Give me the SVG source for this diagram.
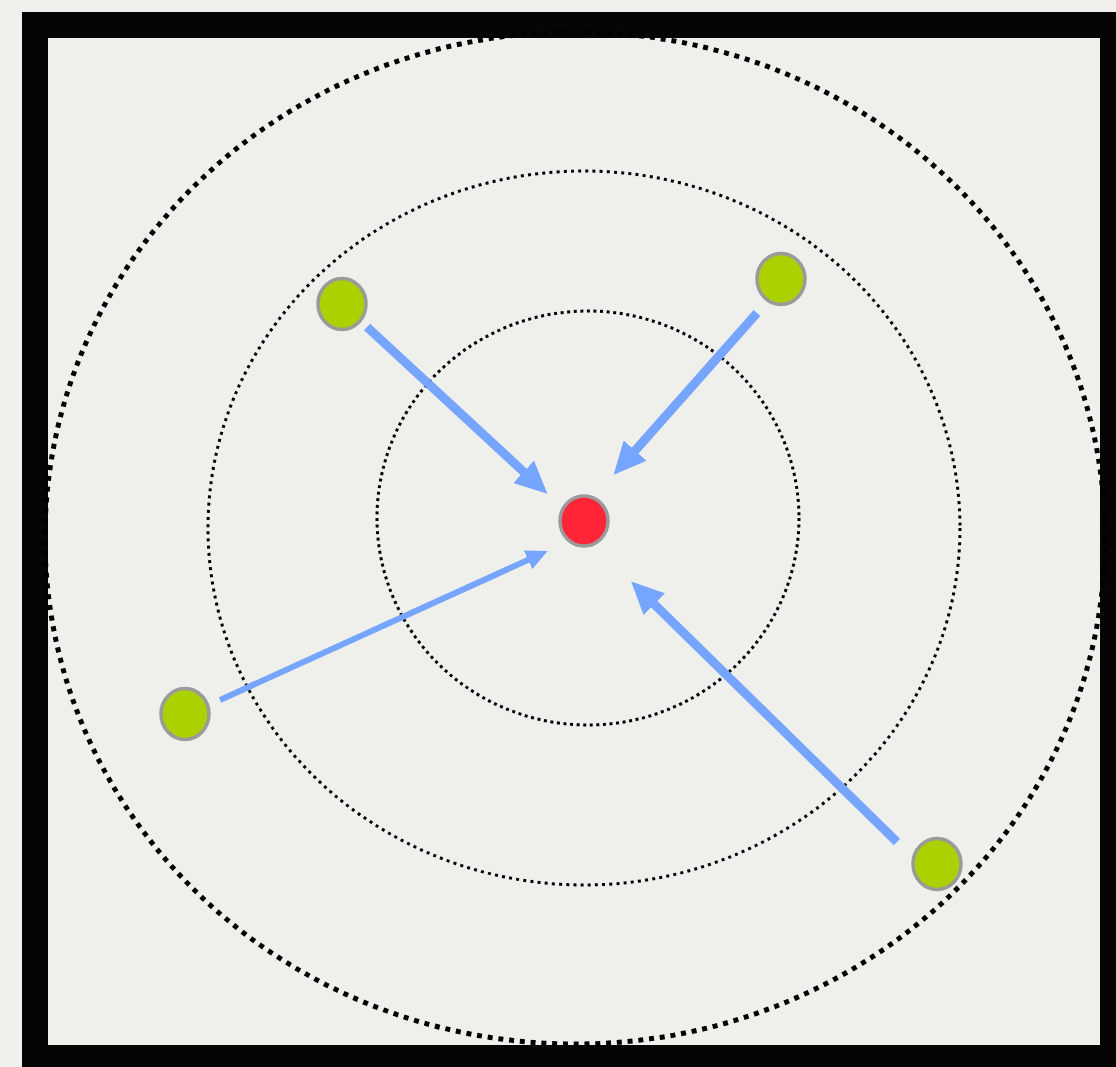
<svg xmlns="http://www.w3.org/2000/svg" width="1116" height="1067" viewBox="0 0 1116 1067">
  <style>
    .ring { fill: none; stroke: #000; }
    .outer { stroke-width: 5; stroke-dasharray: 5 5.8; }
    .mid { stroke-width: 3; stroke-dasharray: 3 4.2; }
    .inner { stroke-width: 3; stroke-dasharray: 3 3.6; }
    .node { stroke: #9a9a9a; stroke-width: 3.5; }
    .green { fill: #abd200; }
    .red { fill: #ff2436; }
    .arrow { stroke: #76a5ff; fill: none; marker-end: url(#head); }
  </style>
  <defs>
    <marker id="head" viewBox="0 0 10 10" refX="1" refY="5" markerWidth="3.6" markerHeight="3.4" preserveAspectRatio="none" orient="auto" markerUnits="strokeWidth">
      <path d="M0,0 L10,5 L0,10 Z" fill="#76a5ff"/>
    </marker>
  </defs>
  <rect x="0" y="0" width="1116" height="1067" fill="#f0f0ed"/>
  <rect x="22" y="12" width="1094" height="1055" fill="#050505"/>
  <rect x="48" y="38" width="1052" height="1007" fill="#efefeb"/>
  <g id="rings">
    <ellipse class="ring outer" cx="575" cy="538" rx="530" ry="506"/>
    <ellipse class="ring mid" cx="584" cy="528" rx="376" ry="357"/>
    <ellipse class="ring inner" cx="588" cy="518" rx="211" ry="207"/>
  </g>
  <g id="connectors">
    <line class="arrow" stroke-width="9" x1="367" y1="327" x2="526" y2="474"/>
    <line class="arrow" stroke-width="9" x1="757" y1="313" x2="633" y2="453"/>
    <line class="arrow" stroke-width="6" x1="220" y1="700" x2="530" y2="559"/>
    <line class="arrow" stroke-width="9" x1="897" y1="842" x2="652" y2="602"/>
  </g>
  <g id="center"><ellipse class="node red" cx="584" cy="521" rx="24" ry="25"/></g>
  <g id="n1"><ellipse class="node green" cx="342" cy="304" rx="24" ry="25.5"/></g>
  <g id="n2"><ellipse class="node green" cx="781" cy="279" rx="24" ry="25.5"/></g>
  <g id="n3"><ellipse class="node green" cx="185" cy="714" rx="24" ry="25.5"/></g>
  <g id="n4"><ellipse class="node green" cx="937" cy="864" rx="24" ry="25.5"/></g>
</svg>
